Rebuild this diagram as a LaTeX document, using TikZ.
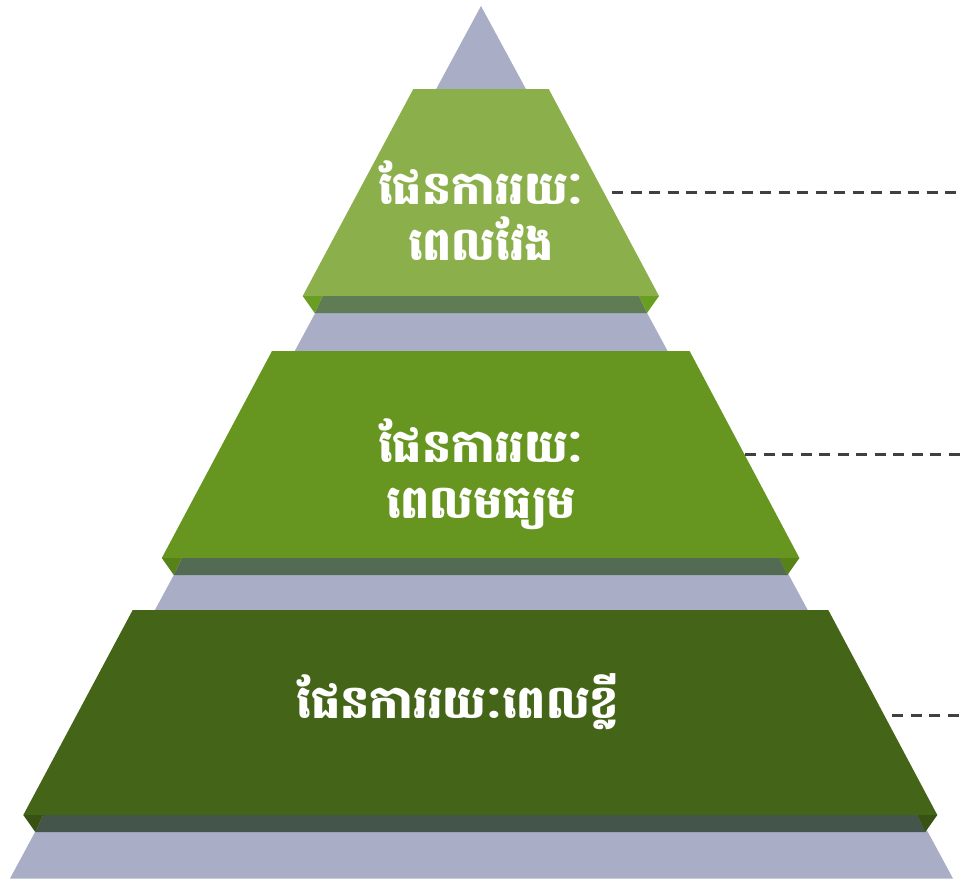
\documentclass[tikz,border=0pt]{standalone}
\usepackage{fontspec}
\newfontfamily\khmer[Script=Khmer]{Battambang}
\definecolor{pyrgray}{HTML}{A9ADC5}
\definecolor{bA}{HTML}{8BB04B}
\definecolor{bAside}{HTML}{6A9E23}
\definecolor{bAslab}{HTML}{5F7C55}
\definecolor{bB}{HTML}{66961F}
\definecolor{bBside}{HTML}{568219}
\definecolor{bBslab}{HTML}{536A53}
\definecolor{bC}{HTML}{446417}
\definecolor{bCside}{HTML}{375212}
\definecolor{bCslab}{HTML}{44554B}
\definecolor{dashgray}{HTML}{404040}
\tikzset{
  lbl/.style={text=white, font=\khmer\bfseries\fontsize{46}{56}\selectfont, align=center, inner sep=0pt},
  guide/.style={draw=dashgray, line width=3pt, dash pattern=on 11pt off 7.5pt}
}
% #1 ytop, #2 ybottom, #3 xtl, #4 xtr, #5 xbl, #6 xbr, #7 prefix
\newcommand{\pyrband}[7]{%
  \fill[#7] (#3,#1) -- (#4,#1) -- (#6,#2) -- (#5,#2) -- cycle;
  \fill[#7slab] (#5+20,#2) -- (#6-20,#2) -- (#6-12,#2+17) -- (#5+12,#2+17) -- cycle;
  \fill[#7side] (#5,#2) -- (#5+20,#2) -- (#5+12,#2+17) -- cycle;
  \fill[#7side] (#6,#2) -- (#6-20,#2) -- (#6-12,#2+17) -- cycle;
}
\begin{document}
\begin{tikzpicture}[x=1pt,y=-1pt]
\useasboundingbox (0,0) rectangle (961,879);
\fill[pyrgray] (481,6) -- (953,878.5) -- (10,878.5) -- cycle;
\pyrband{89}{296}{413.3}{548.7}{302.7}{659}{bA}
\pyrband{351}{558}{272}{689.6}{161.8}{799.4}{bB}
\pyrband{610}{815}{132.7}{828.3}{23.3}{937.3}{bC}
\node[lbl] (t1) at (481,211) {ផែនការរយៈ\\ពេលវែង};
\node[lbl] (t2) at (481,474) {ផែនការរយៈ\\ពេលមធ្យម};
\node[lbl] (t3) at (458,702) {ផែនការរយៈពេលខ្លី};
\coordinate (d1a) at (612,192);
\coordinate (d1b) at (961,192);
\coordinate (d2a) at (745,454);
\coordinate (d2b) at (961,454);
\coordinate (d3a) at (892,715);
\coordinate (d3b) at (961,715);
\draw[guide] (d1a) -- (d1b);
\draw[guide] (d2a) -- (d2b);
\draw[guide] (d3a) -- (d3b);
\end{tikzpicture}
\end{document}
